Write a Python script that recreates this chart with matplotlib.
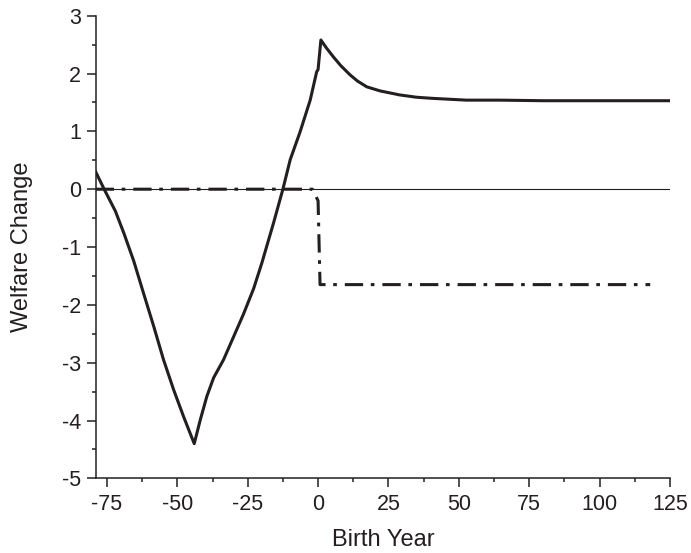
import matplotlib
matplotlib.use("Agg")
import matplotlib.pyplot as plt
from matplotlib.ticker import MultipleLocator

plt.rcParams['font.family'] = ['Liberation Sans', 'DejaVu Sans']
plt.rcParams['axes.unicode_minus'] = False

# solid line: welfare change by birth year
birth_year = [-79, -76, -72, -69, -65.5, -62, -58.4, -54.9, -51.3, -47.8, -44,
              -41.8, -39.5, -37.1, -33.6, -30, -26.5, -22.9, -20, -17.6, -15.8,
              -12.5, -9.9, -6.4, -2.8, -0.5, 0, 1, 3, 5.4, 8, 11.3, 14, 17.3, 22,
              29, 35, 40.9, 52.7, 64.5, 80, 100, 125]
welfare = [0.30, 0.0, -0.38, -0.76, -1.24, -1.80, -2.37, -2.95, -3.47, -3.93, -4.40,
           -3.98, -3.58, -3.26, -2.95, -2.55, -2.16, -1.72, -1.28, -0.88, -0.58,
           0.0, 0.51, 0.99, 1.54, 2.03, 2.07, 2.58, 2.44, 2.29, 2.14, 1.98, 1.87,
           1.77, 1.70, 1.63, 1.59, 1.57, 1.54, 1.54, 1.53, 1.53, 1.53]

# dash-dot line
alt_year = [-79, -2, 0, 0.7, 118]
alt_welfare = [0, 0, -0.2, -1.65, -1.65]

ink = '#231f20'

fig = plt.figure(figsize=(6.91, 5.53), dpi=100)
ax = fig.add_axes([0.1385, 0.135, 0.831, 0.8366])

ax.axhline(0, color=ink, linewidth=0.8, zorder=1)
ax.plot(alt_year, alt_welfare, color=ink, linewidth=2.2,
        linestyle=(0, (6, 2.5, 1.2, 2.6)), zorder=2)
ax.plot(birth_year, welfare, color=ink, linewidth=2.2, zorder=3)

ax.set_xlim(-79, 125)
ax.set_ylim(-5, 3)
ax.xaxis.set_major_locator(MultipleLocator(25))
ax.xaxis.set_minor_locator(MultipleLocator(12.5))
ax.yaxis.set_major_locator(MultipleLocator(1))
ax.yaxis.set_minor_locator(MultipleLocator(0.5))

for side in ['top', 'right']:
    ax.spines[side].set_visible(False)
for side in ['left', 'bottom']:
    ax.spines[side].set_linewidth(1.1)
    ax.spines[side].set_color(ink)

ax.tick_params(which='major', direction='out', length=6.5, width=1.1,
               color=ink, labelsize=15.5, labelcolor=ink)
ax.tick_params(which='minor', direction='out', length=3, width=1.1, color=ink)
ax.tick_params(axis='x', which='major', pad=5)
ax.tick_params(axis='y', which='major', pad=4)

ax.set_xlabel('Birth Year', fontsize=17, color=ink, labelpad=10)
ax.set_ylabel('Welfare Change', fontsize=17, color=ink, labelpad=21)

fig.savefig('out.png', dpi=100)
